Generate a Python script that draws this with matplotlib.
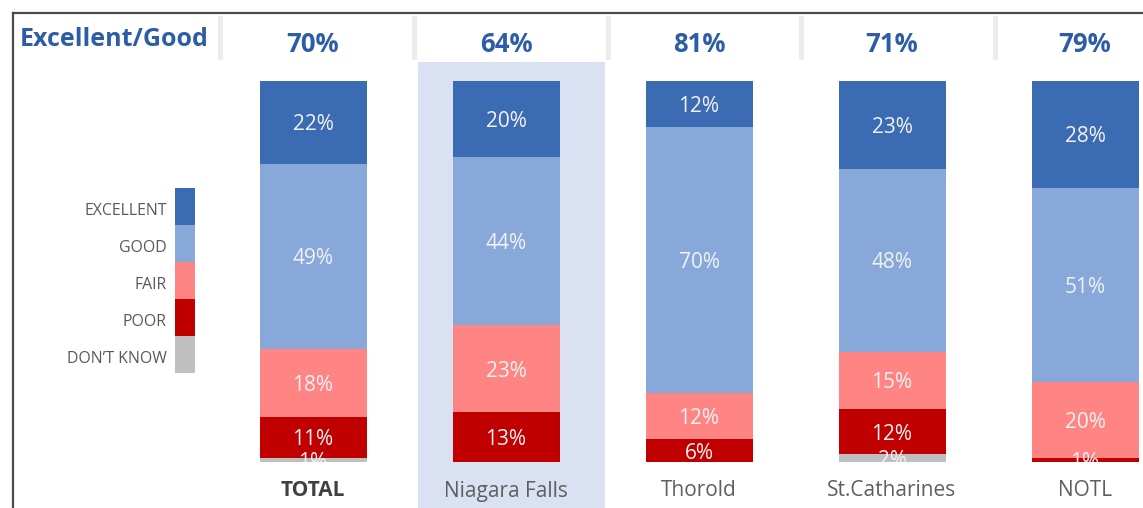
import matplotlib
matplotlib.use("Agg")
import matplotlib.pyplot as plt
from matplotlib.patches import Rectangle
from matplotlib.transforms import blended_transform_factory

plt.rcParams['font.family'] = ['Open Sans', 'DejaVu Sans']

# ---- data -------------------------------------------------------------
regions = ["TOTAL", "Niagara Falls", "Thorold", "St.Catharines", "NOTL"]
ratings = ["EXCELLENT", "GOOD", "FAIR", "POOR", "DON\u2019T KNOW"]
excellent = [22, 20, 12, 23, 28]
good = [49, 44, 70, 48, 51]
fair = [18, 23, 12, 15, 20]
poor = [11, 13, 6, 12, 1]
dont_know = [1, 0, 0, 2, 0]
excellent_good = [70, 64, 81, 71, 79]
header_title = "Excellent/Good"
highlighted = "Niagara Falls"

series = [excellent, good, fair, poor, dont_know]
colors = ["#3B6BB2", "#87A8D9", "#FF8585", "#C00000", "#BFBFBF"]
blue_text = "#2E5DA8"
label_color = "#F2F2F2"

# ---- figure -----------------------------------------------------------
W, H = 1143, 508
fig = plt.figure(figsize=(W / 100, H / 100), dpi=100)

# overlay in pixel coordinates (y measured from top)
ov = fig.add_axes([0, 0, 1, 1])
ov.set_xlim(0, W)
ov.set_ylim(H, 0)
ov.axis("off")

# bar area
top_px, bot_px = 81, 462
c0, step = 313.0, 193.0
x_left = -c0 / step
x_right = (W - c0) / step
ax = fig.add_axes([0, (H - bot_px) / H, 1, (bot_px - top_px) / H])
ax.set_xlim(x_left, x_right)
ax.set_ylim(0, 100)
ax.axis("off")
ax.patch.set_alpha(0)
px_unit = 100 / (bot_px - top_px)  # data units per pixel

# highlight band behind the selected region
hi = regions.index(highlighted)
hx0 = (c0 + step * hi) - 88
ov.add_patch(Rectangle((hx0, 62), 187, H - 62, facecolor="#D9E1F2",
                       edgecolor="none", zorder=0))

# frame lines
ov.plot([12.5, W], [12.5, 12.5], color="#4A4A4A", lw=1.6, zorder=3)
ov.plot([12.5, 12.5], [12.5, H], color="#4A4A4A", lw=1.6, zorder=3)

# header separators
for sx in [220, 414, 608, 801, 995]:
    ov.add_patch(Rectangle((sx - 2, 16), 4.5, 44, facecolor="#ECECEC",
                           edgecolor="none", zorder=1))

ov.text(20, 40, header_title, ha="left", va="center", fontsize=18,
        fontweight="bold", color=blue_text, zorder=4)

# stacked bars: "don't know" at the bottom, "excellent" on top
xs = list(range(len(regions)))
bar_w = 107 / step
totals = [sum(s[i] for s in series) for i in xs]
bottoms = [0.0] * len(regions)
for vals, col in zip(series[::-1], colors[::-1]):
    heights = [v / t * 100 for v, t in zip(vals, totals)]
    ax.bar(xs, heights, bar_w, bottom=bottoms, color=col, edgecolor="none", zorder=2)
    for i, (v, h) in enumerate(zip(vals, heights)):
        if v > 0:
            ax.text(xs[i], bottoms[i] + h / 2 - 2.5 * px_unit, f"{v}%",
                    ha="center", va="center", fontsize=15, color=label_color,
                    clip_on=True, zorder=3)
    bottoms = [b + h for b, h in zip(bottoms, heights)]

# header percentages and category labels
tr = blended_transform_factory(ax.transData, ax.transAxes)
for i, (name, eg) in enumerate(zip(regions, excellent_good)):
    ax.text(xs[i], (bot_px - 44) / (bot_px - top_px), f"{eg}%", transform=tr,
            ha="center", va="center", fontsize=18.5, fontweight="bold",
            color=blue_text, clip_on=False)
    bold = name == "TOTAL"
    ax.text(xs[i], (bot_px - 491) / (bot_px - top_px), name, transform=tr,
            ha="center", va="center", fontsize=15,
            fontweight="bold" if bold else "normal",
            color="#404040" if bold else "#5F5F5F", clip_on=False)

# legend: colour column with labels
lg_x, lg_y, lg_w, lg_h = 175, 188, 20, 37
for k, (name, col) in enumerate(zip(ratings, colors)):
    ov.add_patch(Rectangle((lg_x, lg_y + k * lg_h), lg_w, lg_h,
                           facecolor=col, edgecolor="none", zorder=2))
    ov.text(167, lg_y + k * lg_h + 23, name, ha="right", va="center",
            fontsize=11.4, color="#595959", zorder=2)

fig.savefig("out.png", dpi=100, facecolor="white")
